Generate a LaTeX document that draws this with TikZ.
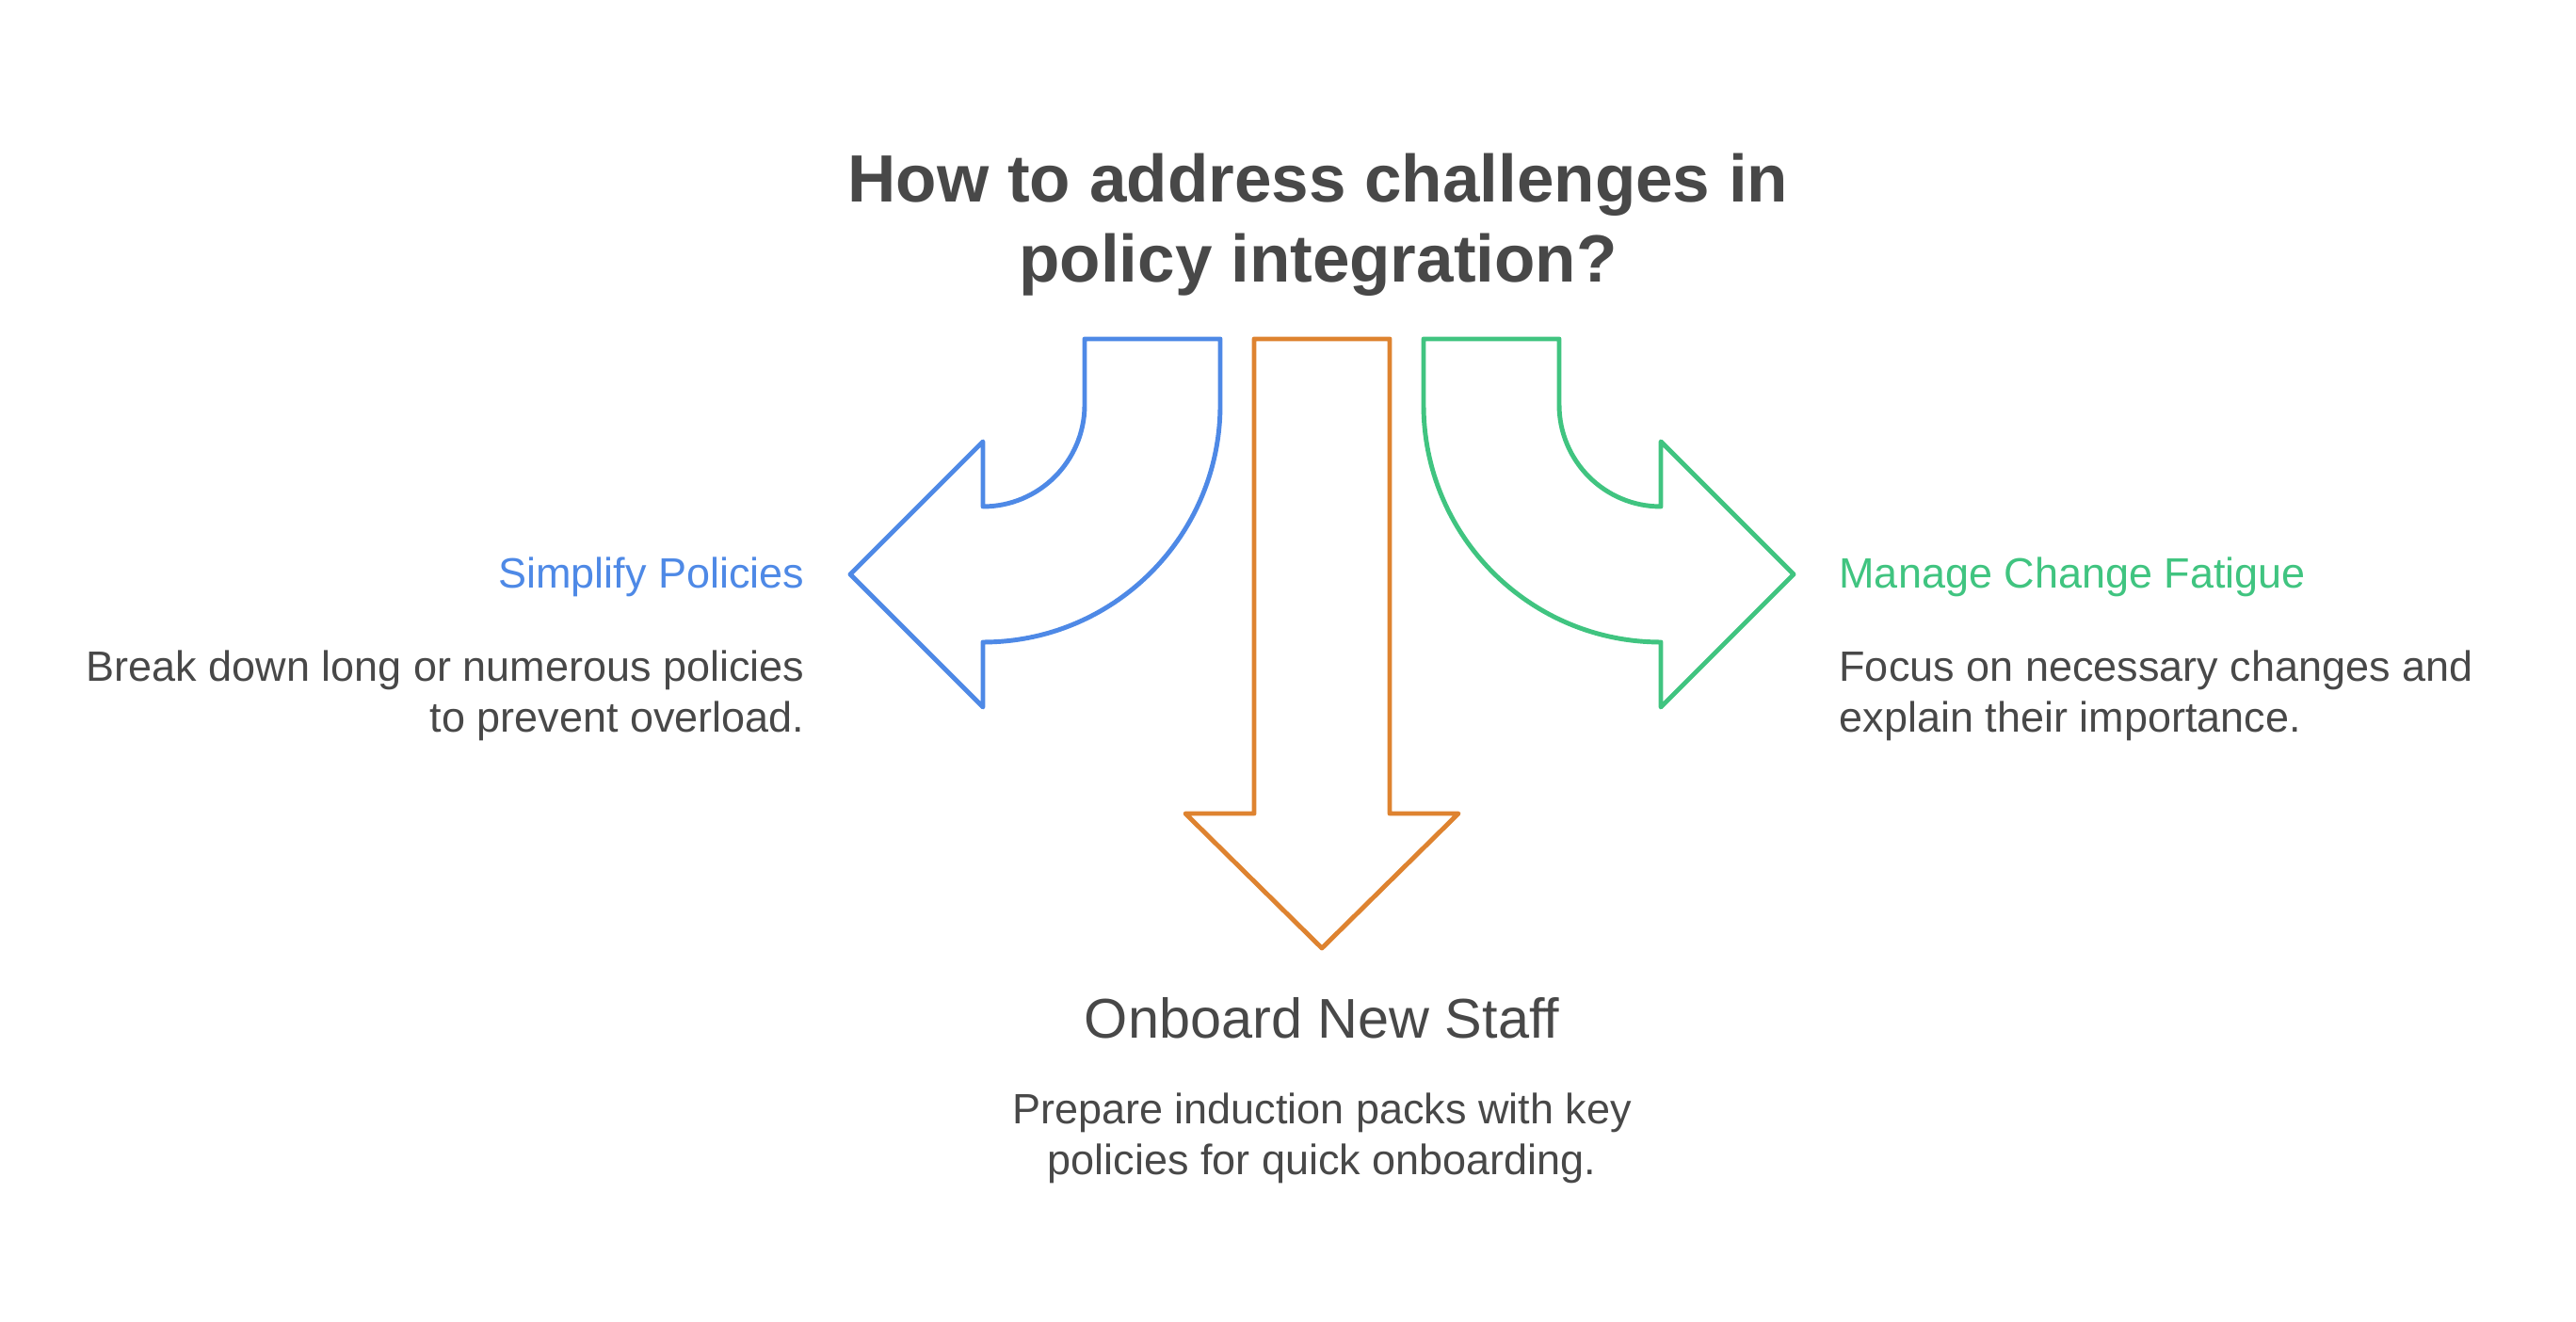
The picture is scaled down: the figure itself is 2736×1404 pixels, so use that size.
\documentclass[tikz,border=0pt]{standalone}
\usepackage{fontspec}
\setmainfont{Liberation Sans}
\usepackage{xcolor}
\usepackage{tikz}
\usetikzlibrary{positioning}
\definecolor{simplifyblue}{RGB}{78,137,230}
\definecolor{onboardorange}{RGB}{222,131,48}
\definecolor{fatiguegreen}{RGB}{64,196,128}
\definecolor{textgrey}{RGB}{72,72,72}

\begin{document}
\begin{tikzpicture}[x=0.01cm, y=0.01cm, line width=1.4pt, line join=round,
  heading/.style={font=\fontsize{12.8}{15.4}\selectfont, inner sep=0pt},
  desc/.style={font=\fontsize{12.8}{15.4}\selectfont, text=textgrey, inner sep=0pt}]
\useasboundingbox (0,0) rectangle (2736,1404);

\node (title) at (1400,1104) [font=\fontsize{20.2}{24.2}\selectfont\bfseries, text=textgrey, align=center, inner sep=0pt, anchor=base]{How to address challenges in\\policy integration?};

\draw [simplifyblue] (1152,1044) -- (1296,1044) -- (1296,974) arc[start angle=0, end angle=-90, radius=252]
  -- (1044,653) -- (903,794) -- (1044,935) -- (1044,866) arc[start angle=-90, end angle=0, radius=108] -- cycle;
\draw [onboardorange] (1332,1044) -- (1476,1044) -- (1476,540) -- (1549,540) -- (1404,397) -- (1259,540) -- (1332,540) -- cycle;
\draw [fatiguegreen] (1512,1044) -- (1656,1044) -- (1656,974) arc[start angle=180, end angle=270, radius=108]
  -- (1764,935) -- (1905,794) -- (1764,653) -- (1764,722) arc[start angle=270, end angle=180, radius=252] -- cycle;

\node (simplify) at (857,779) [heading, text=simplifyblue, anchor=base east]{Simplify Policies};
\node (simplifytext) at (857,626) [desc, anchor=base east, align=right]{Break down long or numerous policies\\to prevent overload.};

\node (fatigue) at (1951,779) [heading, text=fatiguegreen, anchor=base west]{Manage Change Fatigue};
\node (fatiguetext) at (1951,626) [desc, anchor=base west, align=left]{Focus on necessary changes and\\explain their importance.};

\node (onboard) at (1404,301) [font=\fontsize{16.9}{20}\selectfont, text=textgrey, anchor=base]{Onboard New Staff};
\node (onboardtext) at (1404,156) [desc, anchor=base, align=center]{Prepare induction packs with key\\policies for quick onboarding.};
\end{tikzpicture}
\end{document}
